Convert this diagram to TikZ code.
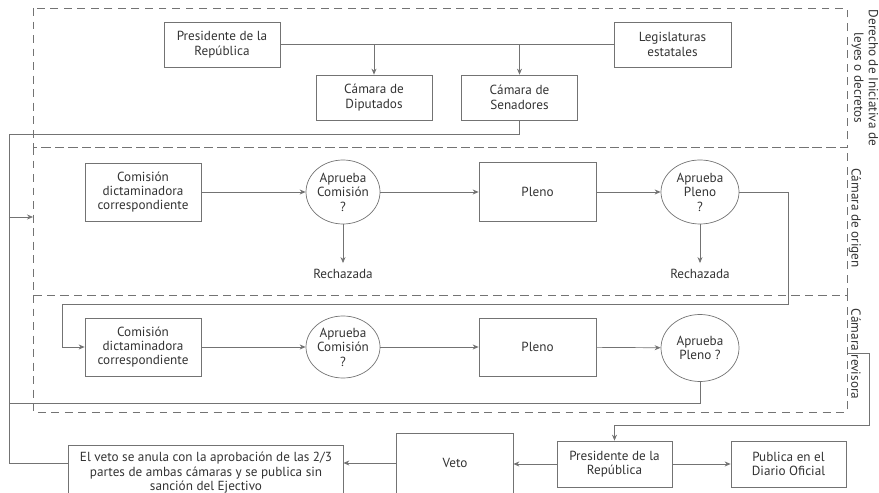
\documentclass[tikz,border=0pt]{standalone}
\usepackage{fontspec}
\setmainfont{PT Sans}
\usetikzlibrary{shapes.geometric, arrows.meta}

\begin{document}
\begin{tikzpicture} [scale = 1,
  every node/.style = {font = \fontsize{7.5pt}{8.2pt}\selectfont, text = black!80},
  caja/.style = {draw = black!55, align = center, inner sep = 1pt},
  globo/.style = {draw = black!55, ellipse, align = center, inner sep = 0pt},
  linea/.style = {draw = black!55, thin},
  flecha/.style = {linea, -{Stealth[length = 1.2mm, width = 1mm]}},
  zona/.style = {draw = black!55, thin, dash pattern = on 4.5pt off 3.2pt},
  rotulo/.style = {rotate = -90, align = center}]
\clip (0, 0) rectangle (17.58, 9.84);

% zonas
\draw[zona] (0.66, 9.68) rectangle (16.94, 6.90);
\draw[zona] (0.66, 6.90) rectangle (16.94, 3.94);
\draw[zona] (0.66, 3.94) rectangle (16.94, 1.60);
\node[rotulo] (iniciativa) at (17.30, 8.28) {Derecho de Iniciativa de\\leyes o decretos};
\node[rotulo] (origen) at (17.10, 5.48) {Cámara de origen};
\node[rotulo] (revisora) at (17.12, 2.76) {Cámara revisora};

% derecho de iniciativa
\node[caja, minimum width = 2.32cm, minimum height = 0.90cm] (pres) at (4.44, 8.95) {Presidente de la\\República};
\node[caja, minimum width = 2.34cm, minimum height = 0.90cm] (leg) at (13.45, 8.95) {Legislaturas\\estatales};
\node[caja, minimum width = 2.32cm, minimum height = 0.90cm] (dip) at (7.48, 7.89) {Cámara de\\Diputados};
\node[caja, minimum width = 2.32cm, minimum height = 0.90cm] (sen) at (10.39, 7.89) {Cámara de\\Senadores};
\draw[linea] (pres.east) -- (leg.west);
\draw[flecha] (pres.east -| dip) -- (dip.north);
\draw[flecha] (pres.east -| sen) -- (sen.north);

% camara de origen
\node[caja, minimum width = 2.32cm, minimum height = 1.16cm] (com1) at (2.86, 6.00) {Comisión\\dictaminadora\\correspondiente};
\node[globo, minimum width = 1.48cm, minimum height = 1.28cm] (apc1) at (6.86, 6.00) {Aprueba\\Comisión\\?};
\node[caja, minimum width = 2.34cm, minimum height = 1.18cm] (ple1) at (10.75, 6.00) {Pleno};
\node[globo, minimum width = 1.56cm, minimum height = 1.28cm] (app1) at (14.00, 6.00) {Aprueba\\Pleno\\?};
\node (rech1) at (6.86, 4.36) {Rechazada};
\node (rech2) at (14.00, 4.36) {Rechazada};
\draw[flecha] (com1) -- (apc1);
\draw[flecha] (apc1) -- (ple1);
\draw[flecha] (ple1) -- (app1);
\draw[flecha] (apc1.south) -- (rech1.north);
\draw[flecha] (app1.south) -- (rech2.north);

% camara revisora
\node[caja, minimum width = 2.32cm, minimum height = 1.16cm] (com2) at (2.86, 2.90) {Comisión\\dictaminadora\\correspondiente};
\node[globo, minimum width = 1.48cm, minimum height = 1.24cm] (apc2) at (6.86, 2.90) {Aprueba\\Comisión\\?};
\node[caja, minimum width = 2.34cm, minimum height = 1.16cm] (ple2) at (10.75, 2.90) {Pleno};
\node[globo, minimum width = 1.56cm, minimum height = 1.34cm] (app2) at (14.00, 2.88) {Aprueba\\Pleno ?};
\draw[flecha] (com2) -- (apc2);
\draw[flecha] (apc2) -- (ple2);
\draw[flecha] (ple2) -- (app2);

% ejecutivo
\node[caja, minimum width = 2.30cm, minimum height = 0.92cm] (pres2) at (12.29, 0.56) {Presidente de la\\República};
\node[caja, minimum width = 2.30cm, minimum height = 0.92cm] (pub) at (15.77, 0.56) {Publica en el\\Diario Oficial};
\node[caja, draw = none, minimum width = 2.32cm, minimum height = 1.16cm] (veto) at (9.10, 0.58) {Veto};
\node[caja, draw = none, minimum width = 5.48cm, minimum height = 1.08cm] (anula) at (4.12, 0.38) {El veto se anula con la aprobación de las 2/3\\partes de ambas cámaras y se publica sin\\sanción del Ejectivo};
\draw[linea] ([yshift = -3mm]veto.south west) |- (veto.north east) -- ++(0, -1.6);
\draw[linea] ([yshift = -3mm]anula.south west) |- (anula.north east) -- ++(0, -1.4);
\draw[flecha] (pres2.west) -- (pres2.west -| veto.east);
\draw[flecha] (pres2.east) -- (pub.west);
\draw[flecha] (veto.west) -- (anula.east |- veto);

% conectores de regreso
\coordinate (izq) at (0.18, 7.16);
\coordinate (entrada) at (0.18, 5.50);
\coordinate (borde) at (0.66, 5.50);
\coordinate (vuelta1) at (15.76, 3.76);
\coordinate (vuelta2) at (1.24, 3.76);
\coordinate (retorno) at (0.18, 1.78);
\coordinate (salida) at (16.94, 2.78);
\coordinate (bajada) at (17.38, 1.34);
\draw[linea] (sen.south) |- (izq) |- (anula.west |- veto);
\draw[flecha] (entrada) -- (borde);
\draw[flecha] (app1.east) -| (vuelta1) -- (vuelta2) |- (com2.west);
\draw[linea] (app2.south) |- (retorno);
\draw[flecha] (salida) -| (bajada) -| (pres2.north);
\end{tikzpicture}
\end{document}
